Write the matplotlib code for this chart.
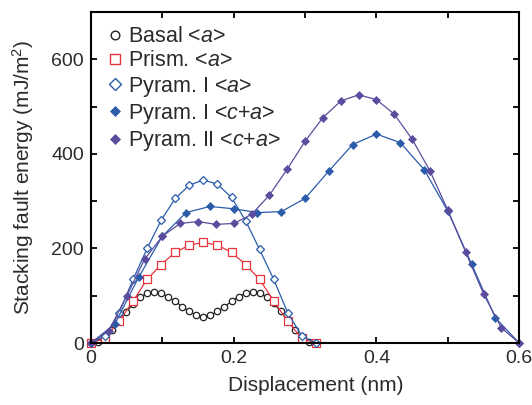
import matplotlib
matplotlib.use("Agg")
import matplotlib.pyplot as plt
from matplotlib.lines import Line2D
from matplotlib.ticker import MultipleLocator

plt.rcParams['font.family'] = ['Liberation Sans', 'DejaVu Sans']
plt.rcParams['mathtext.fontset'] = 'custom'
plt.rcParams['mathtext.rm'] = 'Liberation Sans'
plt.rcParams['mathtext.it'] = 'Liberation Sans:italic'
plt.rcParams['text.color'] = '#2b2b2b'
plt.rcParams['axes.labelcolor'] = '#2b2b2b'

# Basal <a>, 33 points from 0 to a
basal_x = [0.0, 0.0098, 0.0197, 0.0295, 0.0394, 0.0492, 0.0591, 0.0689, 0.0787,
           0.0886, 0.0984, 0.1083, 0.1181, 0.128, 0.1378, 0.1477, 0.1575, 0.1673,
           0.1772, 0.187, 0.1969, 0.2067, 0.2166, 0.2264, 0.2362, 0.2461, 0.2559,
           0.2658, 0.2756, 0.2855, 0.2953, 0.3052, 0.315]
basal_y = [0, 3, 12, 27, 46, 65, 83, 97, 105, 108, 105, 98, 88, 77, 67, 59, 56,
           59, 67, 77, 88, 98, 105, 108, 105, 98, 84, 67, 48, 28, 12, 3, 0]

# Prism <a> and Pyram I <a>, 17 points from 0 to a
a_x = [0.0, 0.0197, 0.0394, 0.0591, 0.0787, 0.0984, 0.1181, 0.1378, 0.1575,
       0.1772, 0.1969, 0.2166, 0.2362, 0.2559, 0.2756, 0.2953, 0.315]
prism_y = [0, 10, 46, 89, 135, 166, 192, 207, 213, 207, 192, 166, 135, 89, 46, 10, 0]
pyr1a_y = [0, 15, 64, 135, 200, 260, 306, 334, 345, 336, 308, 259, 198, 135, 64, 15, 0]

# Pyram I <c+a>, 19 points
pyr1ca_x = [0.0, 0.0333, 0.0667, 0.1, 0.1333, 0.1667, 0.2, 0.2333, 0.2667, 0.3,
            0.3333, 0.3667, 0.4, 0.4333, 0.4667, 0.5, 0.5333, 0.5667, 0.6]
pyr1ca_y = [0, 40, 139, 226, 276, 289, 284, 276, 278, 306,
            364, 420, 442, 424, 367, 279, 167, 53, 0]

# Pyram II <c+a>, 25 points
pyr2ca_x = [0.0, 0.025, 0.05, 0.075, 0.1, 0.125, 0.15, 0.175, 0.2, 0.225, 0.25,
            0.275, 0.3, 0.325, 0.35, 0.375, 0.4, 0.425, 0.45, 0.475, 0.5, 0.525,
            0.55, 0.575, 0.6]
pyr2ca_y = [0, 26, 99, 177, 226, 253, 257, 251, 253, 272, 313, 368, 427, 477,
            512, 525, 515, 484, 431, 364, 281, 192, 104, 32, 0]

red = '#e8353b'
blue = '#2a5caa'
purple = '#5b4c9e'

fig = plt.figure(figsize=(5.32, 4.05), dpi=100)
ax = fig.add_axes([0.171, 0.153, 0.805, 0.817])

styles = [
    (basal_x, basal_y, '#222222', 'o', 4.6, 'white', 'Basal <$a$>'),
    (a_x, prism_y, red, 's', 5.6, 'white', 'Prism. <$a$>'),
    (a_x, pyr1a_y, blue, 'D', 4.3, 'white', 'Pyram. I <$a$>'),
    (pyr1ca_x, pyr1ca_y, blue, 'D', 3.8, blue, 'Pyram. I <$c$+$a$>'),
    (pyr2ca_x, pyr2ca_y, purple, 'D', 3.8, purple, 'Pyram. II <$c$+$a$>'),
]

handles = []
for x, y, c, m, ms, fc, lab in styles:
    ax.plot(x, y, '-', color=c, lw=0.9, marker=m, ms=ms, mfc=fc, mec=c,
            mew=0.9 if fc == 'white' else 0.5, clip_on=False)
    handles.append(Line2D([], [], ls='none', marker=m, ms=ms * 1.35, mfc=fc,
                          mec=c, mew=1.0 if fc == 'white' else 0.5, label=lab))

ax.set_xlim(0, 0.6)
ax.set_ylim(0, 700)
ax.set_xticks([0, 0.2, 0.4, 0.6])
ax.set_xticklabels(['0', '0.2', '0.4', '0.6'])
ax.xaxis.set_minor_locator(MultipleLocator(0.1))
ax.yaxis.set_major_locator(MultipleLocator(200))
ax.yaxis.set_minor_locator(MultipleLocator(100))
ax.tick_params(which='both', direction='in', top=True, right=True,
               length=4.5, width=1.3, labelsize=14, pad=5,
               labelcolor='#2b2b2b')
for s in ax.spines.values():
    s.set_linewidth(1.5)

ax.set_xlabel('Displacement (nm)', fontsize=15, labelpad=5)
ax.xaxis.set_label_coords(0.525, -0.1)
ax.set_ylabel('Stacking fault energy (mJ/m$^2$)', fontsize=15, labelpad=11)

ax.legend(handles=handles, loc='upper left', frameon=False, fontsize=15.5,
          handlelength=0.9, handletextpad=0.17, labelspacing=0.15,
          borderaxespad=0.3, borderpad=0.35)

fig.savefig('out.png', dpi=100)
